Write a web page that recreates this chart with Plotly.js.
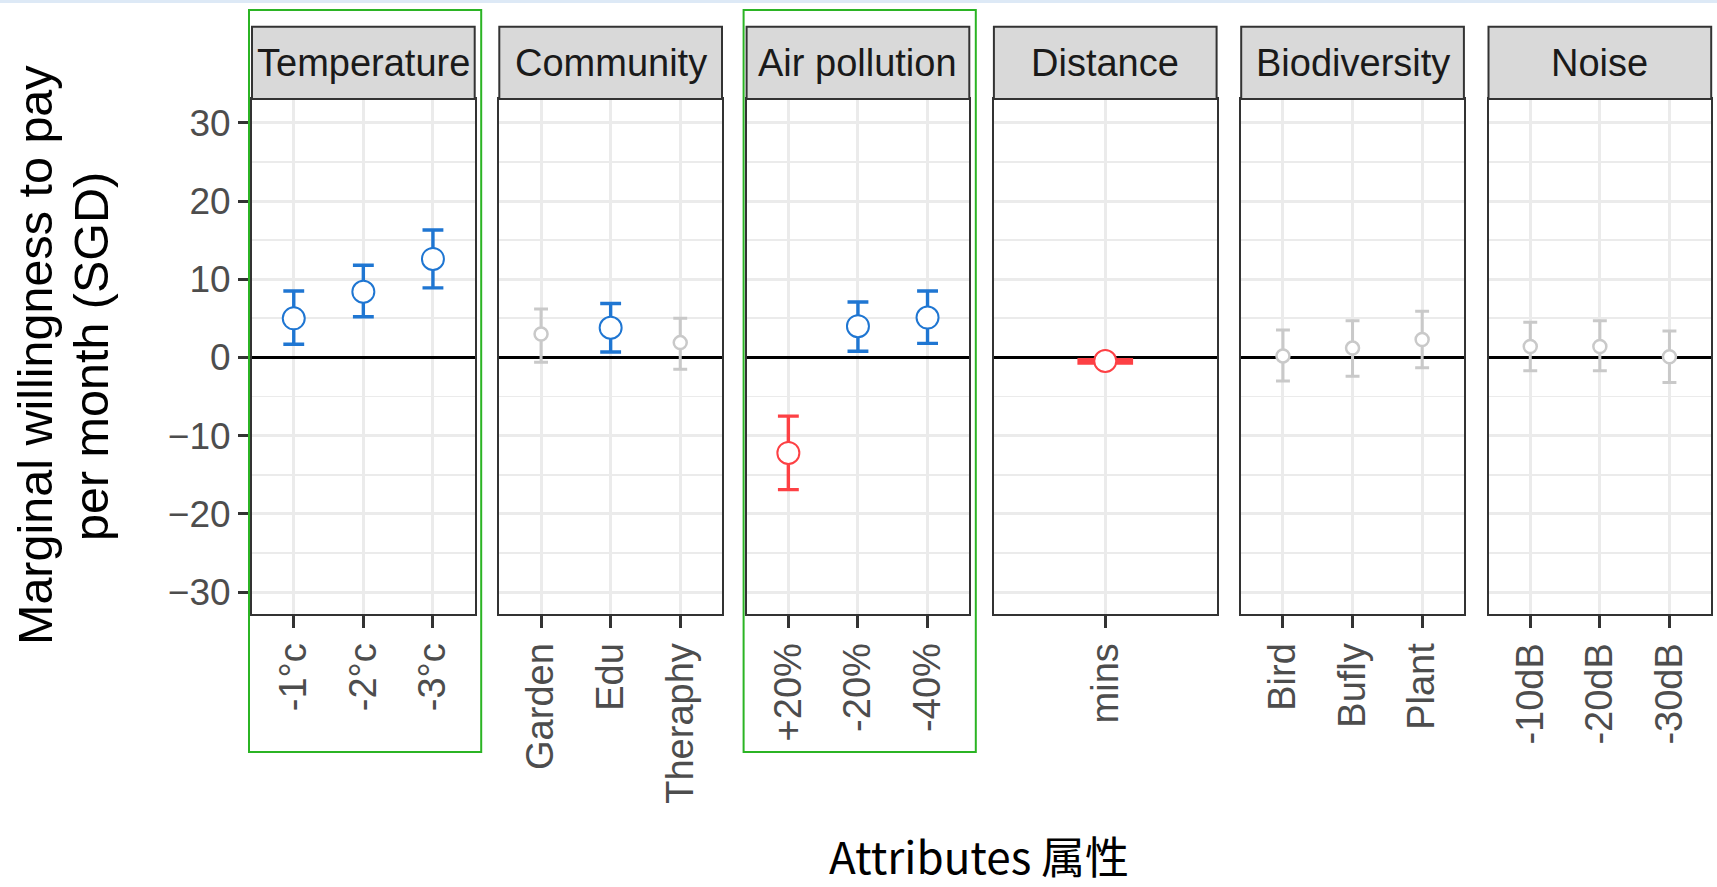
<!DOCTYPE html>
<html>
<head>
<meta charset="utf-8">
<script src="https://cdn.plot.ly/plotly-3.0.1.min.js"></script>
<style>html,body{margin:0;padding:0;background:#fff;}#chart{width:1717px;height:887px;}</style>
</head>
<body>
<div id="chart"></div>
<script>
// ---------------- data ----------------
const attributeNames = ["Temperature", "Community", "Air pollution", "Distance", "Biodiversity", "Noise"];
const levelLabels = [
  ["-1°c", "-2°c", "-3°c"],
  ["Garden", "Edu", "Theraphy"],
  ["+20%", "-20%", "-40%"],
  ["mins"],
  ["Bird", "Bufly", "Plant"],
  ["-10dB", "-20dB", "-30dB"]
];
const wtpEstimate = [
  [5.0, 8.4, 12.6],
  [3.0, 3.8, 1.9],
  [-12.2, 4.0, 5.1],
  [-0.45],
  [0.2, 1.2, 2.3],
  [1.4, 1.4, 0.1]
];
const ciLower = [
  [1.7, 5.2, 8.9],
  [-0.6, 0.7, -1.5],
  [-16.9, 0.8, 1.8],
  [-0.7],
  [-3.0, -2.4, -1.3],
  [-1.7, -1.7, -3.2]
];
const ciUpper = [
  [8.5, 11.8, 16.3],
  [6.2, 6.9, 5.0],
  [-7.5, 7.1, 8.5],
  [-0.3],
  [3.5, 4.7, 5.9],
  [4.5, 4.7, 3.4]
];
// significance: "pos" positive, "neg" negative, "ns" not significant
const significance = [
  ["pos", "pos", "pos"],
  ["ns", "pos", "ns"],
  ["neg", "pos", "pos"],
  ["neg"],
  ["ns", "ns", "ns"],
  ["ns", "ns", "ns"]
];
const yTickValues = [-30, -20, -10, 0, 10, 20, 30];
const yTitleLines = ["Marginal willingness to pay", "per month (SGD)"];
const xTitle = "Attributes 属性";
const highlighted = ["Temperature", "Air pollution"];

// ---------------- style ----------------
const W = 1717, H = 887;
const panelLeft0 = 252, panelStep = 247.3, panelWidth = 222.7;
const panelTop = 99, panelBottom = 614;
const stripTop = 26.7;
const yRange = [-32.8, 33.05];
const fontFamily = "Liberation Sans, Arial, sans-serif";
const styles = {
  pos: {color: "#1f76d2", size: 22, lw: 2, eb: 3.4, cap: 0.3},
  neg: {color: "#fd4044", size: 22, lw: 2, eb: 3.4, cap: 0.3},
  ns:  {color: "#c9c9c9", size: 13, lw: 2.5, eb: 3, cap: 0.2}
};
const px2x = p => p / W;
const px2y = p => 1 - p / H;

const traces = [];
const layout = {
  width: W, height: H,
  margin: {l: 0, r: 0, t: 0, b: 0, pad: 0},
  paper_bgcolor: "#ffffff",
  plot_bgcolor: "#ffffff",
  showlegend: false,
  font: {family: fontFamily, color: "#4d4d4d"},
  shapes: [],
  annotations: []
};

// thin light-blue band at the very top
layout.shapes.push({type: "rect", xref: "paper", yref: "paper", x0: 0, x1: 1, y0: px2y(3), y1: 1,
  fillcolor: "#dde9f6", line: {width: 0}, layer: "below"});

attributeNames.forEach((name, i) => {
  const sfx = i === 0 ? "" : String(i + 1);
  const xName = "xaxis" + sfx, yName = "yaxis" + sfx;
  const xRef = "x" + sfx, yRef = "y" + sfx;
  const left = panelLeft0 + i * panelStep;
  const nCat = levelLabels[i].length;
  const xRange = [-0.6, nCat - 0.4];
  const pxPerUnit = panelWidth / (xRange[1] - xRange[0]);

  layout[xName] = {
    domain: [px2x(left), px2x(left + panelWidth)],
    anchor: yRef,
    type: "category",
    categoryorder: "array",
    categoryarray: levelLabels[i],
    range: xRange,
    showgrid: true, gridcolor: "#ebebeb", gridwidth: 3,
    showline: true, mirror: true, linecolor: "#333333", linewidth: 2,
    ticks: "outside", ticklen: 12, tickwidth: 3, tickcolor: "#333333",
    tickangle: -90,
    tickfont: {family: fontFamily, size: 38, color: "#4d4d4d"},
    zeroline: false, fixedrange: true
  };
  layout[yName] = {
    domain: [px2y(panelBottom), px2y(panelTop)],
    anchor: xRef,
    range: yRange,
    tickvals: yTickValues,
    showticklabels: i === 0,
    ticks: i === 0 ? "outside" : "",
    ticklen: 12, tickwidth: 3, tickcolor: "#333333",
    tickfont: {family: fontFamily, size: 37, color: "#4d4d4d"},
    showgrid: true, gridcolor: "#ebebeb", gridwidth: 3,
    minor: {dtick: 5, tick0: 0, showgrid: true, gridcolor: "#ebebeb", gridwidth: 1.8, ticks: ""},
    zeroline: true, zerolinecolor: "#000000", zerolinewidth: 3,
    showline: true, mirror: true, linecolor: "#333333", linewidth: 2,
    fixedrange: true
  };

  // strip
  layout.shapes.push({type: "rect", xref: "paper", yref: "paper",
    x0: px2x(left), x1: px2x(left + panelWidth), y0: px2y(panelTop), y1: px2y(stripTop),
    fillcolor: "#d9d9d9", line: {color: "#333333", width: 2}});
  layout.annotations.push({xref: "paper", yref: "paper", x: px2x(left + panelWidth / 2), y: px2y(63),
    xanchor: "center", yanchor: "middle", showarrow: false, text: name,
    font: {family: fontFamily, size: 38, color: "#1a1a1a"}});

  // highlight box
  if (highlighted.includes(name)) {
    layout.shapes.push({type: "rect", xref: "paper", yref: "paper",
      x0: px2x(left - 3), x1: px2x(left + panelWidth + 6.5), y0: px2y(752), y1: px2y(10),
      fillcolor: "rgba(0,0,0,0)", line: {color: "#2bb424", width: 2}});
  }

  levelLabels[i].forEach((lab, j) => {
    const st = styles[significance[i][j]];
    const est = wtpEstimate[i][j];
    traces.push({
      type: "scatter", mode: "markers",
      x: [lab], y: [est],
      xaxis: xRef, yaxis: yRef,
      marker: {symbol: "circle", size: st.size, color: "#ffffff", line: {color: st.color, width: st.lw}},
      error_y: {type: "data", symmetric: false,
        array: [ciUpper[i][j] - est], arrayminus: [est - ciLower[i][j]],
        color: st.color, thickness: st.eb, width: st.cap * pxPerUnit / 2},
      hoverinfo: "x+y"
    });
  });
});

// axis titles
layout.annotations.push({xref: "paper", yref: "paper", x: px2x(35), y: px2y(355),
  xanchor: "center", yanchor: "middle", textangle: -90, showarrow: false, text: yTitleLines[0],
  font: {family: fontFamily, size: 48.5, color: "#000000"}});
layout.annotations.push({xref: "paper", yref: "paper", x: px2x(91), y: px2y(357),
  xanchor: "center", yanchor: "middle", textangle: -90, showarrow: false, text: yTitleLines[1],
  font: {family: fontFamily, size: 48.5, color: "#000000"}});
layout.annotations.push({xref: "paper", yref: "paper", x: px2x(979), y: px2y(855),
  xanchor: "center", yanchor: "middle", showarrow: false, text: xTitle,
  font: {family: "Noto Sans CJK SC, sans-serif", size: 44, color: "#000000"}});

Plotly.newPlot("chart", traces, layout, {staticPlot: true, displayModeBar: false});
</script>
</body>
</html>
